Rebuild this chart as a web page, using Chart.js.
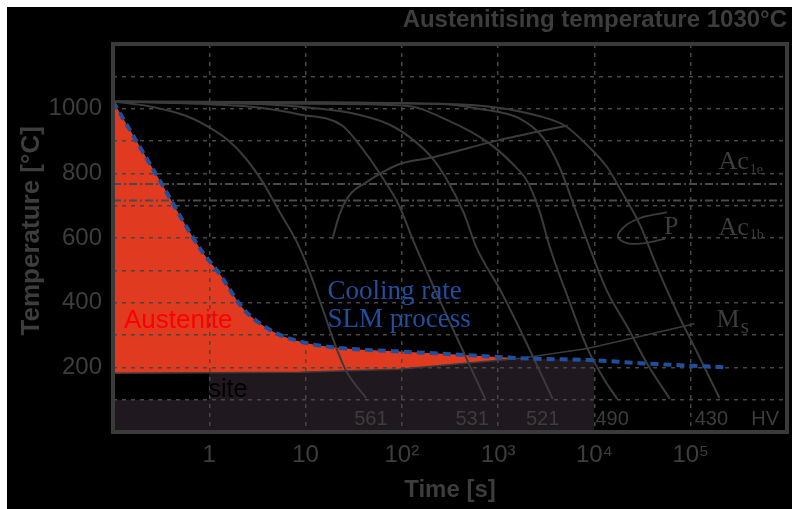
<!DOCTYPE html>
<html><head><meta charset="utf-8">
<script src="https://cdn.jsdelivr.net/npm/chart.js@4.4.1/dist/chart.umd.min.js"></script>
<style>
html,body{margin:0;padding:0;background:#fff;width:792px;height:509px;overflow:hidden;}
#bg{position:absolute;left:7px;top:7px;width:785px;height:502px;background:#000;}
#wrap{position:absolute;left:0;top:0;width:792px;height:509px;}
</style></head><body>
<div id="bg"></div>
<div id="wrap"><canvas id="c" width="792" height="509"></canvas></div>
<script>
// ---- axis ticks ----
const timeTicks = [1, 10, 100, 1000, 10000, 100000];
const timeTickLabels = ['1', '10', '10²', '10³', '10⁴', '10⁵'];
const tempGrid = [0, 100, 200, 300, 400, 500, 600, 700, 800, 900, 1000, 1100, 1200];
const tempTickLabels = [200, 400, 600, 800, 1000];

// ---- SLM cooling curve (blue dashed) ----
const coolTime = [0.1, 0.284, 0.807, 1.30, 2.24, 4.57, 8.7, 19, 93, 360, 1727, 10000, 32700, 235000];
const coolTemp = [1022, 794, 566, 486, 382, 311, 280, 262, 249, 240, 228, 222, 212, 200];

// ---- Ms line ----
const msTime = [0.1, 8.7, 93, 1727, 8472, 110000];
const msTemp = [182, 185, 194, 228, 258, 335];

// ---- box hiding part of the martensite label ----
const boxTime = [0.1, 1];
const boxTemp = [182, 182];
const boxBottom = 100;

// ---- cooling curves with hardness ----
const curve561Time = [0.1, 0.25, 0.57, 1.0, 1.57, 2.35, 3.6, 5.4, 8.1, 11, 15, 21, 26.5, 42.6];
const curve561Temp = [1022, 1006, 978, 942, 902, 849, 772, 680, 588, 495, 382, 258, 188, 105];
const curve531Time = [0.1, 0.81, 3.4, 8.7, 24, 38, 58, 93, 133, 305, 735];
const curve531Temp = [1022, 1015, 1003, 982, 948, 880, 803, 702, 588, 348, 102];
const curve521Time = [0.1, 2.65, 8.7, 28, 74, 133, 204, 305, 436, 593, 1074, 1727, 3690];
const curve521Temp = [1022, 1015, 1006, 988, 951, 902, 849, 772, 680, 572, 434, 311, 102];
const curve490Time = [0.1, 8.7, 110, 305, 789, 1429, 2037, 2710, 3436, 5270, 8472, 12090, 17260];
const curve490Temp = [1022, 1015, 1009, 963, 895, 828, 772, 680, 572, 418, 258, 172, 102];
const curveMidTime = [0.1, 241, 622, 1607, 2911, 4359, 6220, 8870, 13610, 21880, 35170, 60790];
const curveMidTemp = [1022, 1015, 1000, 972, 911, 818, 695, 572, 434, 326, 212, 102];
const curve430Time = [0.1, 241, 1000, 2583, 4909, 8472, 13610, 18540, 29800, 44590, 71800, 115400, 199000];
const curve430Temp = [1022, 1015, 1003, 978, 948, 886, 818, 751, 640, 511, 372, 249, 105];

// ---- transformation start line ----
const startTime = [19, 22.4, 28.4, 42.6, 68.4, 93, 204, 1000, 5270];
const startTemp = [597, 671, 732, 772, 809, 828, 849, 902, 948];

// ---- pearlite loop ----
const pearliteTime = [56600, 27700, 18100, 18500, 27700, 54000];
const pearliteTemp = [680, 658, 618, 594, 582, 597];

// ---- Ac1 lines ----
const acLineTime = [0.1, 1000000];
const ac1eTemp = 767;
const ac1bTemp = 716;

// ---- hardness labels ----
const hvLabels = ['561', '531', '521', '490', '430', 'HV'];
const hvLabelTime = [32, 360, 1945, 10230, 110000, 425600];
const hvLabelTemp = 21;

const SANS = '"Liberation Sans", Arial, sans-serif';
const SERIF = '"Liberation Serif", "Times New Roman", serif';
const TXT = '#3d3d3d';
const GRID = '#474747';
const CURVE = '#3b3b3b';
const RED = '#e03b21';
const PURPLE = '#1f181e';
const BLUE = '#1f4f9d';

const annotations = [
  {text: 'Austenite', t: 0.13, T: 323, font: '26px ' + SANS, color: '#ff0000'},
  {text: 'site', t: 0.98, T: 108, font: '25px ' + SANS, color: '#000000'},
  {text: 'Cooling rate', t: 16.9, T: 412, font: '27px ' + SERIF, color: BLUE},
  {text: 'SLM process', t: 16.9, T: 326, font: '27px ' + SERIF, color: BLUE},
  {text: 'P', t: 52700, T: 612, font: '26px ' + SERIF, color: TXT},
  {text: 'Ac', sub: '1e', t: 194500, T: 812, font: '26px ' + SERIF, subFont: '14px ' + SERIF, subDrop: 5, color: TXT},
  {text: 'Ac', sub: '1b', t: 194500, T: 609, font: '26px ' + SERIF, subFont: '14px ' + SERIF, subDrop: 4, color: TXT},
  {text: 'M', sub: 's', t: 185400, T: 326, font: '26px ' + SERIF, subFont: '21px ' + SERIF, subDrop: 6, color: TXT}
];

function pts(times, temps) { return times.map((t, i) => ({x: t, y: temps[i]})); }
function curveDs(times, temps, extra) {
  return Object.assign({
    data: pts(times, temps), showLine: true, pointRadius: 0, borderColor: CURVE, borderWidth: 2,
    fill: false, cubicInterpolationMode: 'monotone', order: 2
  }, extra || {});
}

const coolUpTo1e4 = coolTime.filter(t => t <= 10000);

const datasets = [
  // 0: cooling curve of SLM process, with austenite fill above Ms
  curveDs(coolTime, coolTemp, {borderColor: BLUE, borderWidth: 4, borderDash: [8, 5], order: 0,
    fill: {target: 1, above: RED, below: 'rgba(0,0,0,0)'}}),
  // 1: Ms line
  curveDs(msTime, msTemp, {borderWidth: 1.5, cubicInterpolationMode: 'default', tension: 0, order: 1}),
  // 2: martensite area
  curveDs(coolUpTo1e4, coolTemp.slice(0, coolUpTo1e4.length), {borderColor: 'rgba(0,0,0,0)', borderWidth: 1,
    backgroundColor: PURPLE, fill: 'origin', order: 10}),
  // 3: black box
  curveDs(boxTime, boxTemp, {borderColor: 'rgba(0,0,0,0)', borderWidth: 1, backgroundColor: '#000000',
    fill: {value: boxBottom}, tension: 0, cubicInterpolationMode: 'default', order: 5}),
  curveDs(curve561Time, curve561Temp),
  curveDs(curve531Time, curve531Temp),
  curveDs(curve521Time, curve521Temp),
  curveDs(curve490Time, curve490Temp),
  curveDs(curveMidTime, curveMidTemp),
  curveDs(curve430Time, curve430Temp),
  curveDs(startTime, startTemp),
  curveDs(pearliteTime, pearliteTemp, {cubicInterpolationMode: 'default', tension: 0.45, borderWidth: 1.8}),
  curveDs(acLineTime, [ac1eTemp, ac1eTemp], {borderColor: '#4a4a4a', borderWidth: 2, borderDash: [8, 3, 2, 3], tension: 0, cubicInterpolationMode: 'default'}),
  curveDs(acLineTime, [ac1bTemp, ac1bTemp], {borderColor: '#4a4a4a', borderWidth: 2, borderDash: [8, 3, 2, 3], tension: 0, cubicInterpolationMode: 'default'})
];

const decor = {
  id: 'decor',
  afterDraw(chart) {
    const {ctx, chartArea: a, scales: {x, y}} = chart;
    ctx.save();
    ctx.lineWidth = 4; ctx.strokeStyle = '#3a3a3a';
    ctx.strokeRect(a.left, a.top, a.right - a.left, a.bottom - a.top);
    ctx.textBaseline = 'alphabetic'; ctx.textAlign = 'left';
    for (const n of annotations) {
      const X = x.getPixelForValue(n.t), Y = y.getPixelForValue(n.T);
      ctx.font = n.font; ctx.fillStyle = n.color;
      ctx.fillText(n.text, X, Y);
      if (n.sub) {
        const w = ctx.measureText(n.text).width;
        ctx.font = n.subFont;
        ctx.fillText(n.sub, X + w + 1, Y + n.subDrop);
      }
    }
    ctx.font = '20px ' + SANS; ctx.fillStyle = TXT;
    hvLabels.forEach((s, i) => ctx.fillText(s, x.getPixelForValue(hvLabelTime[i]), y.getPixelForValue(hvLabelTemp)));
    ctx.restore();
  }
};

new Chart(document.getElementById('c'), {
  type: 'scatter',
  data: {datasets},
  options: {
    responsive: false, animation: false, events: [],
    layout: {padding: {left: 0, right: 5, top: 0, bottom: 0}},
    plugins: {
      legend: {display: false}, tooltip: {enabled: false},
      filler: {drawTime: 'beforeDraw'},
      title: {display: true, text: 'Austenitising temperature 1030°C', align: 'end', color: TXT,
        font: {family: SANS, size: 24, weight: 'bold'}, padding: {top: 6, bottom: 9.2}}
    },
    scales: {
      x: {
        type: 'logarithmic', min: 0.1, max: 1000000,
        afterBuildTicks: s => { s.ticks = timeTicks.map(v => ({value: v})); },
        afterFit: s => { s.height = 77; },
        ticks: {callback: (v, i) => timeTickLabels[i], font: {family: SANS, size: 24}, color: TXT, padding: 9, autoSkip: false, maxRotation: 0},
        grid: {color: GRID, lineWidth: 1.5, drawTicks: false},
        border: {display: false, dash: [4, 5]},
        title: {display: true, text: 'Time [s]', color: TXT, font: {family: SANS, size: 24, weight: 'bold'}, padding: {top: 0, bottom: 4.6}}
      },
      y: {
        type: 'linear', min: 0, max: 1200,
        afterBuildTicks: s => { s.ticks = tempGrid.map(v => ({value: v})); },
        afterFit: s => { s.width = 113; },
        ticks: {callback: v => tempTickLabels.includes(v) ? String(v) : '', font: {family: SANS, size: 24}, color: TXT, padding: 11, autoSkip: false},
        grid: {color: GRID, lineWidth: 1.5, drawTicks: false},
        border: {display: false, dash: [4, 5]},
        title: {display: true, text: '  Temperature [°C]', color: TXT, font: {family: SANS, size: 26, weight: 'bold'}, padding: {top: 16, bottom: 0}}
      }
    }
  },
  plugins: [decor]
});
</script></body></html>
